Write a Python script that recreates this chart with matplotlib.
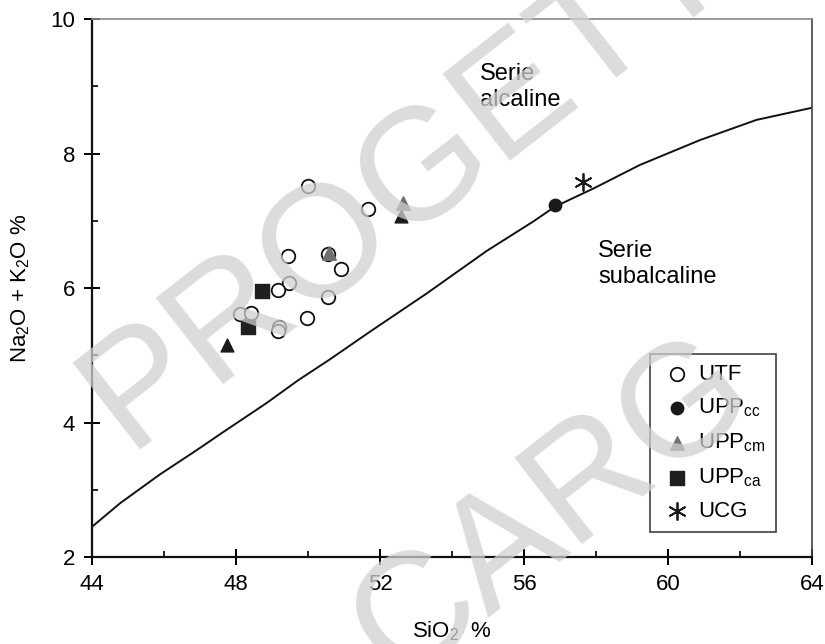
import numpy as np
import matplotlib.pyplot as plt
from matplotlib.ticker import MultipleLocator

plt.rcParams['font.family'] = ['Liberation Sans', 'DejaVu Sans']
plt.rcParams['mathtext.fontset'] = 'custom'
plt.rcParams['mathtext.rm'] = 'Liberation Sans'
plt.rcParams['mathtext.it'] = 'Liberation Sans:italic'

# alkaline / subalkaline boundary
curve_sio2 = [44.0, 44.78, 45.89, 46.91, 47.65, 48.85, 49.73, 50.61, 51.72,
              53.30, 54.96, 56.26, 56.86, 57.93, 59.22, 60.89, 62.46, 64.0]
curve_alk = [2.45, 2.80, 3.23, 3.59, 3.86, 4.29, 4.63, 4.94, 5.35,
             5.92, 6.55, 6.99, 7.21, 7.48, 7.83, 8.20, 8.50, 8.68]

utf_sio2 = [50.01, 51.68, 49.44, 50.55, 50.91, 49.48, 49.16, 50.56, 48.11,
            48.42, 49.96, 49.19, 49.16]
utf_alk = [7.52, 7.17, 6.48, 6.50, 6.28, 6.07, 5.97, 5.87, 5.61,
           5.63, 5.56, 5.42, 5.36]

uppcc_sio2 = [56.86]
uppcc_alk = [7.23]

uppcm_sio2 = [50.58, 52.65]
uppcm_alk = [6.52, 7.27]

# black triangles (no legend entry of their own)
tri_sio2 = [47.74, 52.58]
tri_alk = [5.15, 7.07]

uppca_sio2 = [48.71, 48.32]
uppca_alk = [5.96, 5.42]

ucg_sio2 = [57.65]
ucg_alk = [7.58]

fig = plt.figure(figsize=(8.25, 6.44), dpi=100)
ax = fig.add_axes([0.1115, 0.135, 0.8727, 0.8355])

ax.plot(curve_sio2, curve_alk, color='#111111', lw=1.4, zorder=2)

ax.scatter(utf_sio2, utf_alk, s=95, facecolors='white', edgecolors='#111111',
           linewidths=1.3, zorder=3, label='UTF')
ax.scatter(uppcc_sio2, uppcc_alk, s=80, color='#1a1a1a', zorder=4,
           label='UPP$_{\\mathrm{cc}}$')
ax.scatter(tri_sio2, tri_alk, s=85, marker='^', color='#1a1a1a', zorder=4)
ax.scatter(uppcm_sio2, uppcm_alk, s=95, marker='^', color='#707070', zorder=4,
           label='UPP$_{\\mathrm{cm}}$')
ax.scatter(uppca_sio2, uppca_alk, s=95, marker='s', color='#1f1f1f', zorder=4,
           label='UPP$_{\\mathrm{ca}}$')
ax.scatter(ucg_sio2, ucg_alk, s=150, marker=(6, 2, 0), color='#1a1a1a',
           linewidths=1.3, zorder=4, label='UCG')

ax.set_xlim(44, 64)
ax.set_ylim(2, 10)
ax.xaxis.set_major_locator(MultipleLocator(4))
ax.xaxis.set_minor_locator(MultipleLocator(2))
ax.yaxis.set_major_locator(MultipleLocator(2))
ax.yaxis.set_minor_locator(MultipleLocator(1))
ax.tick_params(which='major', direction='inout', length=12, width=1.4,
               labelsize=16, pad=6)
ax.tick_params(which='minor', direction='in', length=4, width=1.2)

for side in ['left', 'bottom']:
    ax.spines[side].set_linewidth(1.6)
    ax.spines[side].set_color('#111111')
ax.spines['top'].set_color('#888888')
ax.spines['top'].set_linewidth(1.2)
ax.spines['right'].set_color('#444444')
ax.spines['right'].set_linewidth(1.2)

ax.set_xlabel('SiO$_2$  %', fontsize=16, labelpad=18)
ax.set_ylabel('Na$_2$O + K$_2$O %', fontsize=16, labelpad=13)

ax.text(54.78, 9.35, 'Serie\nalcaline', fontsize=17, va='top', ha='left',
        linespacing=1.25)
ax.text(58.06, 6.72, 'Serie\nsubalcaline', fontsize=17, va='top', ha='left',
        linespacing=1.25)

leg = ax.legend(loc='lower right', bbox_to_anchor=(0.95, 0.046),
                fontsize=16, frameon=True, fancybox=False, edgecolor='#111111',
                handletextpad=0.2, handlelength=1.5, labelspacing=0.55,
                borderpad=0.45, borderaxespad=0)
leg.get_frame().set_linewidth(1.2)

# watermark
fig.text(0.55, 0.78, 'PROGETTO', fontsize=115, color='#d0d0d0', alpha=0.75,
         rotation=38, ha='center', va='center', zorder=10)
fig.text(0.67, 0.21, 'CARG', fontsize=115, color='#d0d0d0', alpha=0.75,
         rotation=38, ha='center', va='center', zorder=10)

fig.savefig('out.png', dpi=100)
